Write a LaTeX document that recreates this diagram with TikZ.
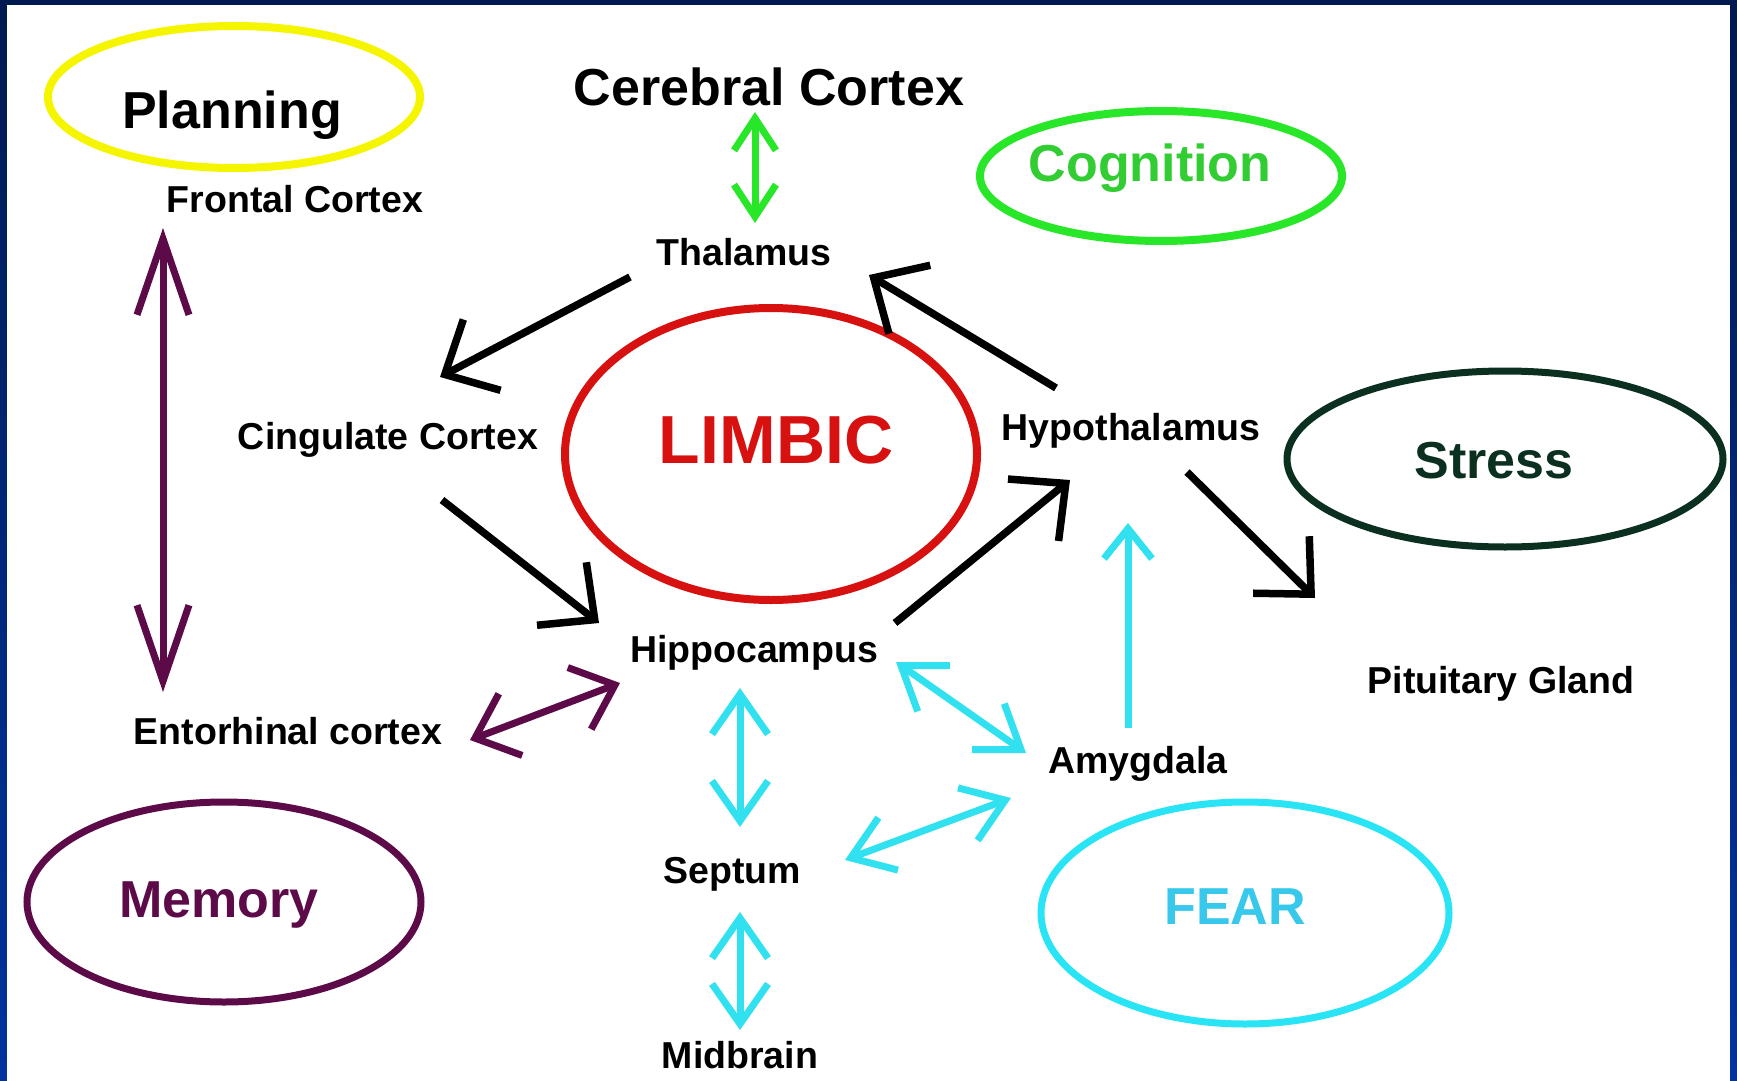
\documentclass[tikz,border=0pt]{standalone}
\usepackage{fontspec}
\setmainfont{Liberation Sans}
\usetikzlibrary{arrows.meta,shapes.geometric}
\definecolor{navytop}{RGB}{0,26,80}
\definecolor{navybot}{RGB}{0,51,160}
\definecolor{planyellow}{RGB}{245,245,0}
\definecolor{coggreen}{RGB}{40,230,40}
\definecolor{cogtext}{RGB}{50,205,50}
\definecolor{limbred}{RGB}{215,16,16}
\definecolor{stressgreen}{RGB}{12,48,32}
\definecolor{mempurple}{RGB}{92,10,72}
\definecolor{fearcyan}{RGB}{40,228,245}
\definecolor{feartext}{RGB}{55,200,235}
\definecolor{arrowcyan}{RGB}{50,225,240}
\begin{document}
\begin{tikzpicture}[x=1pt,y=-1pt,
  lbl/.style={font=\bfseries\fontsize{37.5}{40}\selectfont, anchor=base, inner sep=0pt},
  biglbl/.style={font=\bfseries\fontsize{52}{56}\selectfont, anchor=base, inner sep=0pt},
  oval/.style={ellipse, draw, line width=#1, inner sep=0pt},
  oval/.default=8pt,
  garrow/.style={draw=coggreen, line width=7pt,
    {Straight Barb[length=32pt,width=42pt]}-{Straight Barb[length=32pt,width=42pt]}},
  parrowv/.style={draw=mempurple, line width=7pt,
    {Straight Barb[length=76pt,width=52pt]}-{Straight Barb[length=76pt,width=52pt]}},
  parrowd/.style={draw=mempurple, line width=7pt,
    {Straight Barb[length=38pt,width=66pt]}-{Straight Barb[length=38pt,width=66pt]}},
  carrow/.style={draw=arrowcyan, line width=7pt,
    {Straight Barb[length=40pt,width=56pt]}-{Straight Barb[length=40pt,width=56pt]}},
  carrowone/.style={draw=arrowcyan, line width=7pt,
    -{Straight Barb[length=30pt,width=48pt]}},
  barrow/.style={draw=black, line width=7.5pt,
    -{Straight Barb[length=42pt,width=80pt]}}
]
\useasboundingbox (0,0) rectangle (1737,1081);
\shade[top color=navytop, bottom color=navybot] (0,0) rectangle (1737,1081);
\fill[white] (7,5) rectangle (1730,1081);

% ovals
\node[oval, draw=planyellow, minimum width=372pt, minimum height=142pt] (planoval) at (234,97) {};
\node[oval, draw=coggreen, minimum width=362pt, minimum height=130pt] (cogoval) at (1161,176) {};
\node[oval, draw=limbred, minimum width=412pt, minimum height=292pt] (limboval) at (771,454) {};
\node[oval=7pt, draw=stressgreen, minimum width=436pt, minimum height=176pt] (stressoval) at (1505,459) {};
\node[oval=7pt, draw=mempurple, minimum width=394pt, minimum height=200pt] (memoval) at (224,902) {};
\node[oval=7pt, draw=fearcyan, minimum width=408pt, minimum height=222pt] (fearoval) at (1245,913) {};

% big labels
\node[biglbl] (planning) at (232,128) {Planning};
\node[biglbl] (cerebral) at (769,105) {Cerebral Cortex};
\node[biglbl, text=cogtext] (cognition) at (1150,181) {Cognition};
\node[lbl, text=limbred, font=\bfseries\fontsize{68}{72}\selectfont] (limbic) at (776,463) {LIMBIC};
\node[biglbl, text=stressgreen] (stress) at (1494,478) {Stress};
\node[biglbl, text=mempurple] (memory) at (219,917) {Memory};
\node[biglbl, text=feartext] (fear) at (1235,924) {FEAR};

% small labels
\node[lbl] (frontal) at (295,212) {Frontal Cortex};
\node[lbl] (thalamus) at (744,265) {Thalamus};
\node[lbl] (cingulate) at (388,449) {Cingulate Cortex};
\node[lbl] (hypothal) at (1131,440) {Hypothalamus};
\node[lbl] (hippo) at (754,662) {Hippocampus};
\node[lbl] (pituitary) at (1501,693) {Pituitary Gland};
\node[lbl] (entorhinal) at (288,744) {Entorhinal cortex};
\node[lbl] (amygdala) at (1138,773) {Amygdala};
\node[lbl] (septum) at (732,883) {Septum};
\node[lbl] (midbrain) at (740,1068) {Midbrain};

% connector end points
\coordinate (cc-s) at (755,112);
\coordinate (th-n) at (755,223);
\coordinate (fr-s) at (163,228);
\coordinate (en-n) at (163,692);
\coordinate (en-e) at (470,740);
\coordinate (hi-w) at (620,683);
\coordinate (th-sw) at (630,277);
\coordinate (ci-ne) at (440,377);
\coordinate (hy-nw) at (1056,388);
\coordinate (th-se) at (869,275);
\coordinate (ci-se) at (442,500);
\coordinate (hi-nw) at (599,623);
\coordinate (hi-ne) at (895,623);
\coordinate (hy-sw) at (1070,480);
\coordinate (hy-se) at (1187,472);
\coordinate (pi-nw) at (1315,598);
\coordinate (hi-s) at (740,688);
\coordinate (se-n) at (740,827);
\coordinate (se-s) at (740,912);
\coordinate (mi-n) at (740,1030);
\coordinate (hi-se) at (896,662);
\coordinate (am-nw) at (1026,753);
\coordinate (se-e) at (845,860);
\coordinate (am-w) at (1011,798);
\coordinate (am-n) at (1128,728);
\coordinate (hy-s) at (1128,523);

% connectors
\draw[garrow] (cc-s) -- (th-n);
\draw[parrowv] (fr-s) -- (en-n);
\draw[parrowd] (en-e) -- (hi-w);
\draw[barrow] (th-sw) -- (ci-ne);
\draw[barrow] (hy-nw) -- (th-se);
\draw[barrow] (ci-se) -- (hi-nw);
\draw[barrow] (hi-ne) -- (hy-sw);
\draw[barrow] (hy-se) -- (pi-nw);
\draw[carrow] (hi-s) -- (se-n);
\draw[carrow] (se-s) -- (mi-n);
\draw[carrow] (hi-se) -- (am-nw);
\draw[carrow] (se-e) -- (am-w);
\draw[carrowone] (am-n) -- (hy-s);
\end{tikzpicture}
\end{document}
